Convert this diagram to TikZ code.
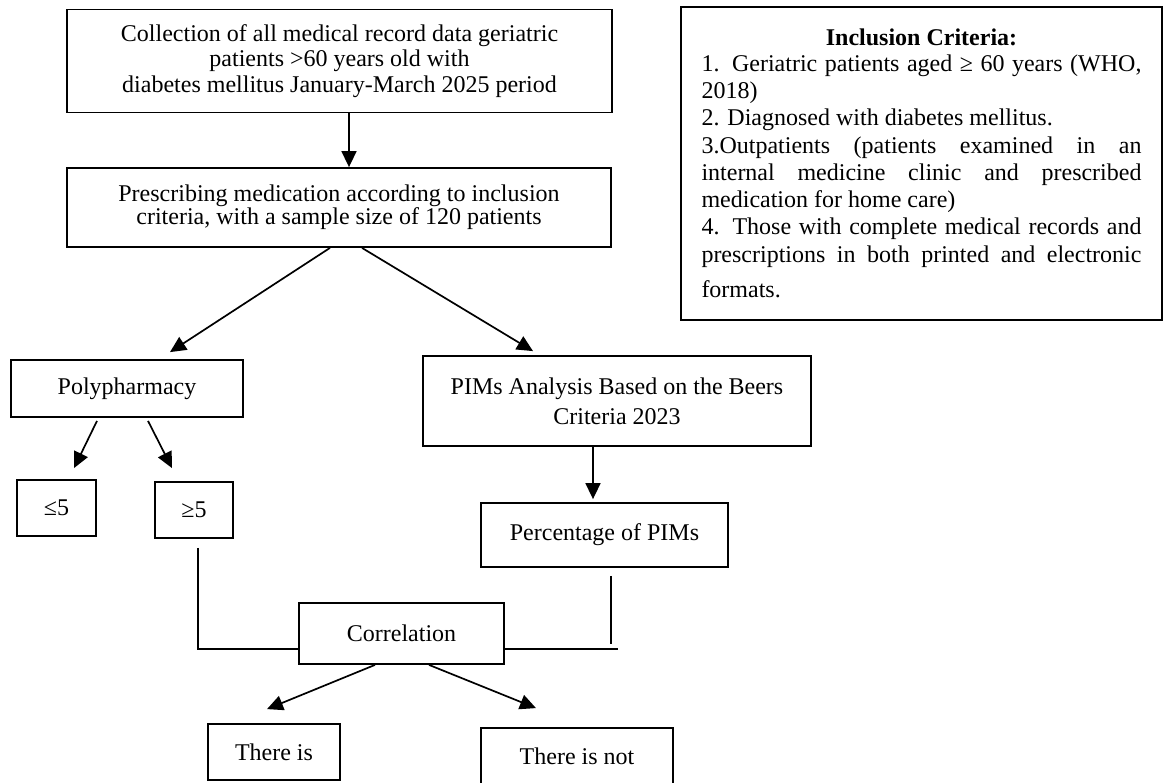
\documentclass[tikz,border=0pt]{standalone}
\usepackage{fontspec}
\setmainfont{Liberation Serif}
\usetikzlibrary{arrows.meta}
\begin{document}
\begin{tikzpicture}[x=1pt,y=-1pt,
  box/.style={draw, line width=1.8pt, inner sep=0pt, align=center, font=\fontsize{24}{25}\selectfont},
  arr/.style={line width=1.7pt, -{Triangle[length=16pt,width=15pt]}},
  lnk/.style={line width=1.8pt}]
\useasboundingbox (0,0) rectangle (1165,783);
\clip (0,0) rectangle (1165,783);

\node[box, minimum width=545pt, minimum height=103pt, font=\fontsize{24}{25.5}\selectfont] (col) at (339.5,61)
  {Collection of all medical record data geriatric\\patients >60 years old with\\diabetes mellitus January-March 2025 period};
\node[box, minimum width=544pt, minimum height=79pt, font=\fontsize{24}{23}\selectfont] (pres) at (339,207.5)
  {Prescribing medication according to inclusion\\criteria, with a sample size of 120 patients};
\node[box, text width=440pt, inner xsep=20.5pt, inner ysep=0pt, minimum height=313pt, align=justify,
  font=\fontsize{24}{27.3}\selectfont] (incl) at (921.5,163.5)
  {\makebox[\linewidth]{\textbf{Inclusion Criteria:}}\\[-2pt]
   1. Geriatric patients aged ≥ 60 years (WHO,\linebreak 2018)\\
   2. Diagnosed with diabetes mellitus.\\
   3.Outpatients (patients examined in an\linebreak internal medicine clinic and prescribed\linebreak medication for home care)\\
   4. Those with complete medical records and\linebreak prescriptions in both printed and electronic\linebreak \rule{0pt}{29pt}formats.};
\node[box, minimum width=232pt, minimum height=57pt] (poly) at (127,388.5) {Polypharmacy};
\node[box, minimum width=388pt, minimum height=90pt,
  font=\fontsize{24}{30}\selectfont] (pims) at (617,401)
  {PIMs Analysis Based on the Beers\\Criteria 2023};
\node[box, minimum width=79pt, minimum height=56pt] (le) at (56.5,508) {≤5};
\node[box, minimum width=78pt, minimum height=56pt] (ge) at (194,510) {≥5};
\node[box, minimum width=247pt, minimum height=64pt] (perc) at (604.5,535) {Percentage of PIMs};
\node[box, minimum width=205pt, minimum height=61pt] (corr) at (401.5,633.5) {Correlation};
\node[box, minimum width=132pt, minimum height=56pt] (yes) at (274,752) {There is};
\node[box, minimum width=192pt, minimum height=57pt] (no) at (577,756.5) {There is not};

\draw[arr] ([xshift=9.5pt]col.south) -- ([xshift=10pt]pres.north);
\draw[arr] ([xshift=-9pt]pres.south) -- ([xshift=43pt,yshift=7pt]poly.north);
\draw[arr] ([xshift=23pt]pres.south) -- ([xshift=-84pt,yshift=4pt]pims.north);
\draw[arr] ([xshift=-30pt,yshift=-3pt]poly.south) -- ([xshift=17.5pt,yshift=11pt]le.north);
\draw[arr] ([xshift=21pt,yshift=-3pt]poly.south) -- ([xshift=-22pt,yshift=13pt]ge.north);
\draw[arr] ([xshift=-24pt]pims.south) -- ([xshift=-11.5pt,yshift=3pt]perc.north);
\draw[lnk] ([xshift=4pt,yshift=-9pt]ge.south) |- ([yshift=-15.5pt]corr.west);
\coordinate (pend) at ([xshift=6.5pt,yshift=-76pt]perc.south);
\draw[lnk, line width=1.5pt] ([xshift=6.5pt,yshift=-8pt]perc.south) -- (pend);
\coordinate (hend) at ([xshift=113pt,yshift=-15.5pt]corr.east);
\draw[lnk] ([yshift=-15.5pt]corr.east) -- (hend);
\draw[arr] ([xshift=-26.5pt]corr.south) -- ([xshift=-7pt,yshift=14pt]yes.north);
\draw[arr] ([xshift=27.5pt]corr.south) -- ([xshift=-41pt,yshift=19pt]no.north);
\end{tikzpicture}
\end{document}
